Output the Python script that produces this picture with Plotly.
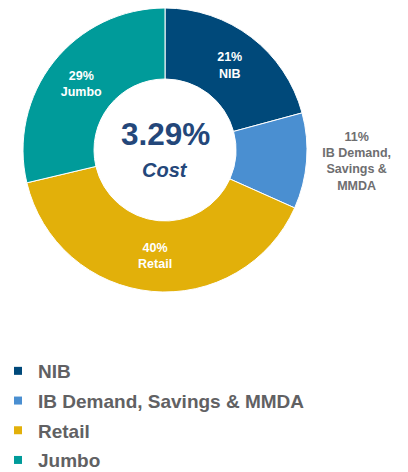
import plotly.graph_objects as go

# ---- data ----
categories = ["NIB", "IB Demand, Savings & MMDA", "Retail", "Jumbo"]
slice_labels = ["NIB", "IB Demand,<br>Savings &<br>MMDA", "Retail", "Jumbo"]
shares = [21, 11, 40, 29]
center_value = "3.29%"
center_label = "Cost"

colors = ["#00497A", "#4A8FD1", "#E2B00A", "#009B9A"]
text_pos = ["inside", "outside", "inside", "inside"]
text_colors = ["white", "#6E6E70", "white", "white"]

FONT = "Liberation Sans, Arial, sans-serif"
W, H = 408, 472
cx, cy, r = 165, 150, 142

texts = [f"<b>{v}%<br>{l}</b>" for v, l in zip(shares, slice_labels)]

fig = go.Figure()
fig.add_trace(go.Pie(
    labels=categories,
    values=shares,
    text=texts,
    textinfo="text",
    textposition=text_pos,
    insidetextorientation="horizontal",
    textfont=dict(family=FONT, size=12.5, color=text_colors),
    outsidetextfont=dict(family=FONT, size=12.5, color="#6E6E70"),
    hole=0.5,
    sort=False,
    direction="clockwise",
    rotation=0,
    marker=dict(colors=colors, line=dict(color="white", width=1)),
    domain=dict(x=[(cx - r) / W, (cx + r) / W],
                y=[(H - cy - r) / H, (H - cy + r) / H]),
    showlegend=False,
    hoverinfo="label+percent",
))

# legend entries
for name, col in zip(categories, colors):
    fig.add_trace(go.Scatter(
        x=[None], y=[None], mode="markers", name=name,
        legendgroup=name,
        marker=dict(symbol="square", size=8, color=col),
        showlegend=True,
    ))

fig.add_annotation(x=cx / W, y=(H - 134) / H, xref="paper", yref="paper",
                   xanchor="center", yanchor="middle",
                   text=f"<b>{center_value}</b>", showarrow=False,
                   font=dict(family=FONT, size=31.5, color="#24477A"))
fig.add_annotation(x=cx / W, y=(H - 170) / H, xref="paper", yref="paper",
                   xanchor="center", yanchor="middle",
                   text=f"<b><i>{center_label}</i></b>", showarrow=False,
                   font=dict(family=FONT, size=20, color="#24477A"))

fig.update_layout(
    width=W, height=H,
    margin=dict(l=0, r=0, t=0, b=0, autoexpand=False),
    paper_bgcolor="white", plot_bgcolor="white",
    xaxis=dict(visible=False), yaxis=dict(visible=False),
    legend=dict(
        x=-2 / W, xanchor="left",
        y=1 - 352 / H, yanchor="top",
        font=dict(family=FONT, size=19, color="#616163", weight="bold"),
        tracegroupgap=2,
        itemsizing="trace",
    ),
)

fig.write_html("out.html", config={"displayModeBar": False},
               post_script="document.body.style.margin='0';")
